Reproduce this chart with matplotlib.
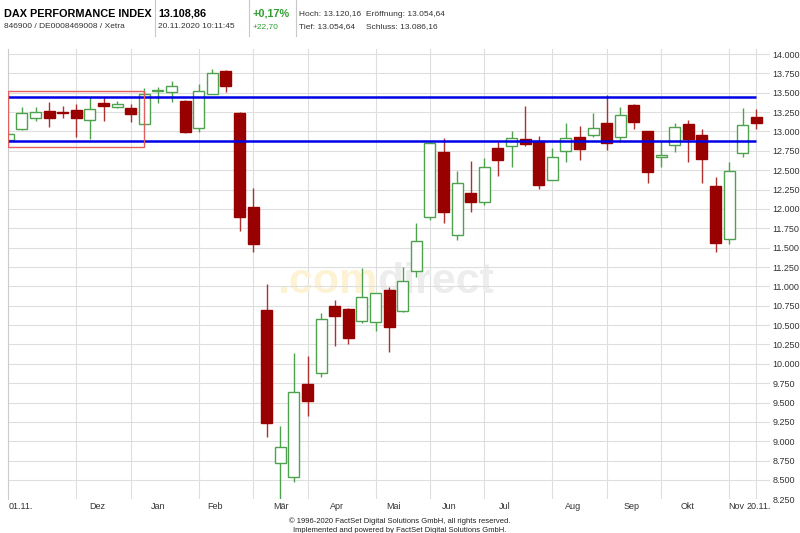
import matplotlib
matplotlib.use("Agg")
import matplotlib.pyplot as plt
from matplotlib.lines import Line2D
from matplotlib.patches import Rectangle
from matplotlib.ticker import FuncFormatter
import numpy as np

# weekly DAX candles, 01.11.2019 - 20.11.2020
opens = [12893, 13031, 13173, 13267, 13258, 13280, 13151, 13362, 13310, 13302,
         13095, 13528, 13504, 13388, 13044, 13487, 13775, 13238, 12031, 10696,
         8724, 8535, 9736, 9886, 10748, 10709, 10558, 10545, 10955, 10687,
         11200, 11902, 12734, 11665, 12204, 12088, 12785, 12819, 12902, 12880,
         12376, 12742, 12928, 12957, 13116, 12935, 13345, 13000, 12677, 12828,
         13096, 12957, 12302, 11610, 12721, 13181]
highs = [12975, 13310, 13315, 13380, 13332, 13354, 13444, 13444, 13388, 13354,
         13561, 13581, 13655, 13410, 13616, 13806, 13797, 13250, 12276, 11032,
         9202, 10145, 10106, 10654, 10826, 10715, 11243, 10915, 10997, 11256,
         11824, 12880, 12922, 12496, 12621, 12664, 12863, 13009, 13323, 12944,
         12793, 13108, 13065, 13238, 13474, 13310, 13358, 13005, 12871, 13108,
         13151, 13035, 12411, 12612, 13302, 13293]
lows = [12880, 13020, 13138, 13052, 13173, 12928, 12900, 13138, 13302, 13121,
        13090, 13367, 13380, 12979, 12987, 13480, 13504, 11721, 11442, 9059,
        8256, 8478, 9331, 9835, 10235, 10253, 10524, 10425, 10158, 10674,
        11127, 11859, 11824, 11601, 11959, 12053, 12419, 12535, 12819, 12256,
        12370, 12605, 12634, 12928, 12755, 12863, 13035, 12341, 12540, 12729,
        12600, 12341, 11450, 11549, 12677, 13035]
closes = [12970, 13238, 13251, 13173, 13238, 13173, 13289, 13323, 13354, 13225,
          13487, 13540, 13590, 12992, 13517, 13754, 13590, 11894, 11549, 9233,
          8930, 9641, 9525, 10576, 10623, 10331, 10860, 10912, 10473, 11075,
          11588, 12850, 11954, 12333, 12088, 12540, 12634, 12922, 12837, 12311,
          12677, 12915, 12773, 13044, 12850, 13207, 13121, 12475, 12699, 13052,
          12906, 12647, 11558, 12492, 13078, 13109]

month_labels = ["01.11.", "Dez", "Jan", "Feb", "Mär", "Apr", "Mai", "Jun",
                "Jul", "Aug", "Sep", "Okt", "Nov", "20.11."]
month_label_pos = [0, 6.52, 11.0, 15.19, 20.04, 24.15, 28.34, 32.38,
                   36.5, 41.55, 45.83, 49.94, 53.5, 55.15]
month_grid = [5, 9, 14, 18, 22, 27, 31, 35, 40, 44, 48, 53, 55]

resistance = 13445
support = 12875
box_low, box_high = 12806, 13517
box_weeks = 10

UP_EDGE = "#4ea24e"
DOWN_FILL = "#990000"
DOWN_WICK = "#b03030"
GRID = "#dedede"

plt.rcParams["font.family"] = ["Liberation Sans", "DejaVu Sans"]

fig = plt.figure(figsize=(8, 5.33), dpi=100)
ax = fig.add_axes([0.0104, 0.0632, 0.952, 0.8441])

o = np.array(opens)
h = np.array(highs)
l = np.array(lows)
c = np.array(closes)
x = np.arange(len(o))
up = c >= o

# watermark behind the candles
ax.text(377 / 800, 1 - 293 / 533, ".com", transform=fig.transFigure, ha="right",
        va="baseline", fontsize=31, fontweight="bold", color="#fdf3d4", zorder=1)
ax.text(377 / 800, 1 - 293 / 533, "direct", transform=fig.transFigure, ha="left",
        va="baseline", fontsize=31, fontweight="bold", color="#ededed", zorder=1)

ax.set_yticks(np.arange(8250, 14001, 250))
ax.grid(axis="y", color=GRID, linewidth=0.8, zorder=0)
for gx in month_grid:
    ax.axvline(gx, color=GRID, linewidth=0.8, zorder=0)

# wicks
ax.vlines(x[up], l[up], h[up], color=UP_EDGE, linewidth=1, zorder=2)
ax.vlines(x[~up], l[~up], h[~up], color=DOWN_WICK, linewidth=1, zorder=2)

# bodies
ax.bar(x[up], c[up] - o[up], bottom=o[up], width=0.82, color="white",
       edgecolor=UP_EDGE, linewidth=1, zorder=3)
ax.bar(x[~up], o[~up] - c[~up], bottom=c[~up], width=0.82, color=DOWN_FILL,
       edgecolor=DOWN_FILL, linewidth=1, zorder=3)

# trading range marks
ax.hlines([resistance, support], 0, len(o) - 1, color="#0000e6",
          linewidth=1.8, zorder=4)
ax.add_patch(Rectangle((0, box_low), box_weeks, box_high - box_low, fill=False,
                       edgecolor="#e06060", linewidth=1, zorder=4))

ax.set_xlim(0, 56)
ax.set_ylim(8250, 14060)

ax.yaxis.tick_right()
ax.yaxis.set_major_formatter(FuncFormatter(lambda v, p: f"{int(v):,}".replace(",", ".")))
ax.tick_params(axis="y", length=0, pad=2, labelsize=6.5, labelcolor="#333333")

ax.set_xticks(month_label_pos)
ax.set_xticklabels(month_labels)
ax.tick_params(axis="x", length=0, pad=2, labelsize=6.5, labelcolor="#333333")
ax.get_xticklabels()[0].set_ha("left")

for side in ["top", "right", "bottom"]:
    ax.spines[side].set_visible(False)
ax.spines["left"].set_color("#cccccc")
ax.spines["left"].set_linewidth(0.8)

# header
for sx in [155, 249, 296]:
    fig.add_artist(Line2D([sx / 800, sx / 800], [1.0, 1 - 36 / 533],
                          color="#c8c8c8", linewidth=0.8))
y1 = 1 - 14 / 533
y2 = 1 - 27 / 533
fig.text(4 / 800, y1, "DAX PERFORMANCE INDEX", fontsize=7.8, fontweight="bold", va="center")
fig.text(4 / 800, y2, "846900 / DE0008469008 / Xetra", fontsize=6, color="#333333", va="center")
fig.text(158 / 800, y1, "13.108,86", fontsize=7.8, fontweight="bold", va="center")
fig.text(158 / 800, y2, "20.11.2020 10:11:45", fontsize=6, color="#333333", va="center")
fig.text(253 / 800, y1, "+0,17%", fontsize=7.8, fontweight="bold", color="#2e9e2e", va="center")
fig.text(253 / 800, y2, "+22,70", fontsize=6, color="#2e9e2e", va="center")
fig.text(299 / 800, y1, "Hoch: 13.120,16", fontsize=6, color="#333333", va="center")
fig.text(366 / 800, y1, "Eröffnung: 13.054,64", fontsize=6, color="#333333", va="center")
fig.text(299 / 800, y2, "Tief: 13.054,64", fontsize=6, color="#333333", va="center")
fig.text(366 / 800, y2, "Schluss: 13.086,16", fontsize=6, color="#333333", va="center")

# footer
fig.text(0.5, 1 - 521 / 533, "© 1996-2020 FactSet Digital Solutions GmbH, all rights reserved.",
         ha="center", va="center", fontsize=5.5, color="#222222")
fig.text(0.5, 1 - 530 / 533, "Implemented and powered by FactSet Digital Solutions GmbH.",
         ha="center", va="center", fontsize=5.5, color="#222222")

fig.savefig("out.png", dpi=100)
